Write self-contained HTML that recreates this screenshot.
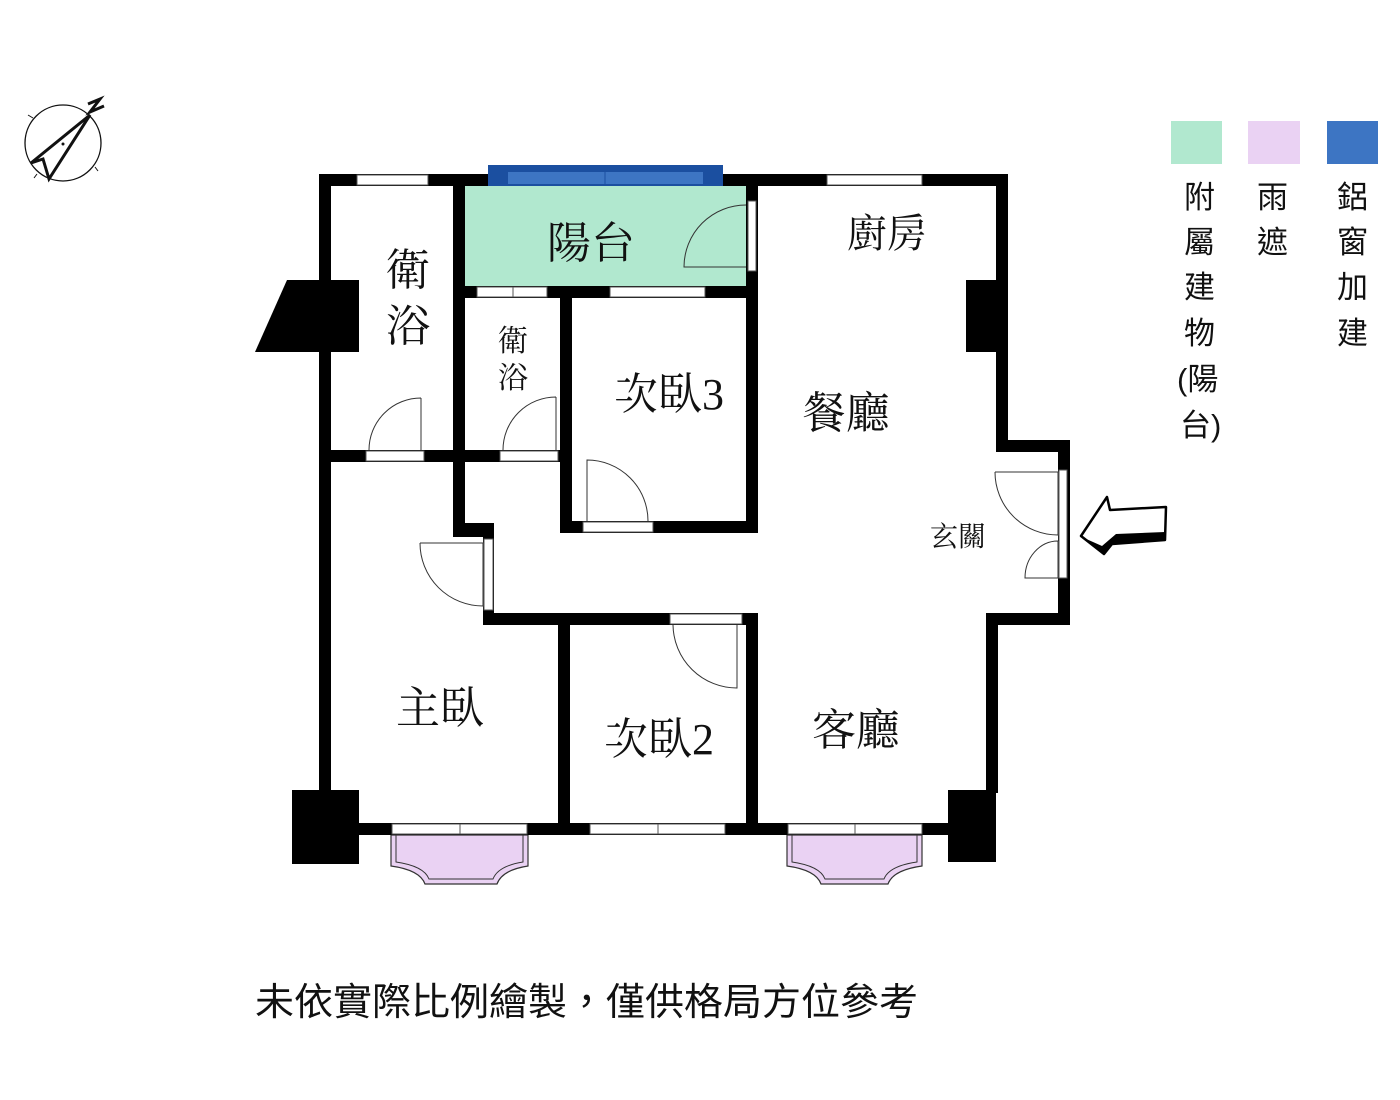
<!DOCTYPE html>
<html><head><meta charset="utf-8"><style>
html,body{margin:0;padding:0;background:#fff;}
svg{display:block;}
.s{font-family:"Liberation Serif","Noto Serif CJK TC","Noto Serif CJK SC",serif;fill:#111;}
.g{font-family:"Liberation Sans","Noto Sans CJK TC",sans-serif;fill:#111;}
</style></head><body>
<svg width="1400" height="1100" viewBox="0 0 1400 1100" xmlns="http://www.w3.org/2000/svg">
<rect width="1400" height="1100" fill="#fff"/>
<!-- compass -->
<g stroke="#111" fill="none">
<circle cx="63" cy="143" r="38" stroke-width="1.3"/>
<line x1="28" y1="115" x2="33" y2="118"/><line x1="95" y1="167" x2="98" y2="171"/>
<line x1="34" y1="178" x2="37" y2="174"/>
<polygon points="90,115 31,163 43,159 49,179" stroke-width="3" stroke-linejoin="miter"/>
<polyline points="88,104 100,99 90,112 104,106" stroke-width="3"/>
</g>
<circle cx="63" cy="144" r="1.5" fill="#111"/>
<!-- legend -->
<rect x="1171" y="121" width="51" height="43" fill="#b1e8cf"/>
<rect x="1248" y="121" width="52" height="43" fill="#ead2f3"/>
<rect x="1327" y="121" width="51" height="43" fill="#3d75c3"/>
<g class="g" font-size="31">
<text x="1184" y="208">附</text><text x="1184" y="253">屬</text><text x="1184" y="298">建</text><text x="1184" y="344">物</text>
<text x="1177" y="390">(陽</text><text x="1180" y="436">台)</text>
<text x="1257" y="208">雨</text><text x="1257" y="253">遮</text>
<text x="1337" y="208">鋁</text><text x="1337" y="253">窗</text><text x="1337" y="298">加</text><text x="1337" y="344">建</text>
</g>
<!-- balcony -->
<rect x="462" y="186" width="288" height="100" fill="#b1e8cf"/>
<!-- bay windows -->
<g stroke="#333" stroke-width="1.2" fill="#ead2f3">
<path d="M391,835 V866 Q420,870 425,884 H497 Q502,870 528,866 V835 Z"/>
<path d="M787,835 V866 Q816,870 821,884 H888 Q893,870 922,866 V835 Z"/>
</g>
<g stroke="#333" stroke-width="1" fill="none">
<path d="M396,835 V862 Q424,866 429,879 H493 Q498,866 523,862 V835"/>
<path d="M792,835 V862 Q820,866 825,879 H884 Q889,866 917,862 V835"/>
</g>
<!-- walls -->
<g fill="#000">
<rect x="319" y="174" width="689" height="12"/>
<rect x="319" y="174" width="12" height="656"/>
<polygon points="255,352 287,280 359,280 359,352"/>
<rect x="453" y="174" width="12" height="362"/>
<rect x="453" y="523" width="41" height="14"/>
<rect x="483" y="523" width="11" height="102"/>
<rect x="483" y="613" width="275" height="12"/>
<rect x="453" y="286" width="305" height="12"/>
<rect x="560" y="286" width="12" height="247"/>
<rect x="560" y="521" width="198" height="12"/>
<rect x="746" y="174" width="12" height="359"/>
<rect x="319" y="450" width="253" height="12"/>
<rect x="558" y="613" width="12" height="222"/>
<rect x="746" y="613" width="12" height="222"/>
<rect x="331" y="823" width="619" height="12"/>
<rect x="292" y="790" width="67" height="74"/>
<rect x="948" y="790" width="48" height="72"/>
<rect x="996" y="174" width="12" height="278"/>
<rect x="966" y="280" width="42" height="72"/>
<rect x="996" y="440" width="74" height="12"/>
<rect x="1058" y="440" width="12" height="185"/>
<rect x="986" y="613" width="84" height="12"/>
<rect x="986" y="613" width="12" height="180"/>
</g>
<!-- blue window -->
<rect x="488" y="165" width="235" height="21" fill="#1b4fa0"/>
<rect x="508" y="172" width="195" height="12" fill="#3d75c3"/>
<line x1="605" y1="172" x2="605" y2="184" stroke="#1b4fa0"/>
<!-- white windows/doors -->
<g fill="#fff" stroke="#555" stroke-width="1">
<rect x="357" y="175" width="71" height="10"/>
<rect x="827" y="175" width="95" height="10"/>
<rect x="748" y="201" width="8" height="70"/>
<rect x="477" y="287" width="70" height="10"/><line x1="513" y1="287" x2="513" y2="297"/>
<rect x="610" y="287" width="95" height="10"/>
<rect x="366" y="451" width="58" height="10"/>
<rect x="500" y="451" width="58" height="10"/>
<rect x="583" y="522" width="70" height="10"/>
<rect x="484" y="539" width="9" height="71"/>
<rect x="670" y="614" width="72" height="10"/>
<rect x="1059" y="470" width="8" height="108"/>
<rect x="392" y="824" width="135" height="10"/><line x1="460" y1="824" x2="460" y2="834"/>
<rect x="590" y="824" width="135" height="10"/><line x1="658" y1="824" x2="658" y2="834"/>
<rect x="788" y="824" width="134" height="10"/><line x1="855" y1="824" x2="855" y2="834"/>
</g>
<!-- door swings -->
<g stroke="#333" stroke-width="1" fill="none">
<path d="M746,205 A62,62 0 0 0 684,267 H746"/>
<path d="M421,398 V450 M421,398 A52,52 0 0 0 369,450"/>
<path d="M556,397 V450 M556,397 A53,53 0 0 0 503,450"/>
<path d="M587,521 V460 A61,61 0 0 1 648,521"/>
<path d="M420,543 H483 V606 A63,63 0 0 1 420,543"/>
<path d="M737,625 V688 A64,64 0 0 1 673,625"/>
<path d="M995,472 H1058 V535 A63,63 0 0 1 995,472"/>
<path d="M1058,541 V578 H1025 A33,37 0 0 1 1058,541"/>
</g>
<!-- entry arrow -->
<g stroke="#000" stroke-width="2.5" fill="#fff" stroke-linejoin="round">
<path d="M1107,497 L1081,536 L1104,554 L1112,544 L1165,540 L1166,507 L1110,510 Z"/>
</g>
<path d="M1084,538 L1104,554 L1112,544 L1165,540 L1165,532 L1116,534 L1102,546 Z" fill="#000"/>
<!-- room labels -->
<g class="s">
<text x="386" y="285" font-size="44">衛</text>
<text x="386" y="341" font-size="44">浴</text>
<text x="547" y="258" font-size="44">陽台</text>
<text x="498" y="351" font-size="30">衛</text>
<text x="498" y="388" font-size="30">浴</text>
<text x="614" y="409" font-size="44">次臥</text><text x="702" y="409" font-size="44">3</text>
<text x="847" y="247" font-size="40">廚房</text>
<text x="802" y="428" font-size="44">餐廳</text>
<text x="930" y="546" font-size="28">玄關</text>
<text x="396" y="723" font-size="44">主臥</text>
<text x="604" y="754" font-size="44">次臥</text><text x="692" y="754" font-size="44">2</text>
<text x="812" y="745" font-size="44">客廳</text>
</g>
<text class="g" x="255" y="1015" font-size="38" textLength="663" lengthAdjust="spacingAndGlyphs">未依實際比例繪製，僅供格局方位參考</text>
</svg>
</body></html>
